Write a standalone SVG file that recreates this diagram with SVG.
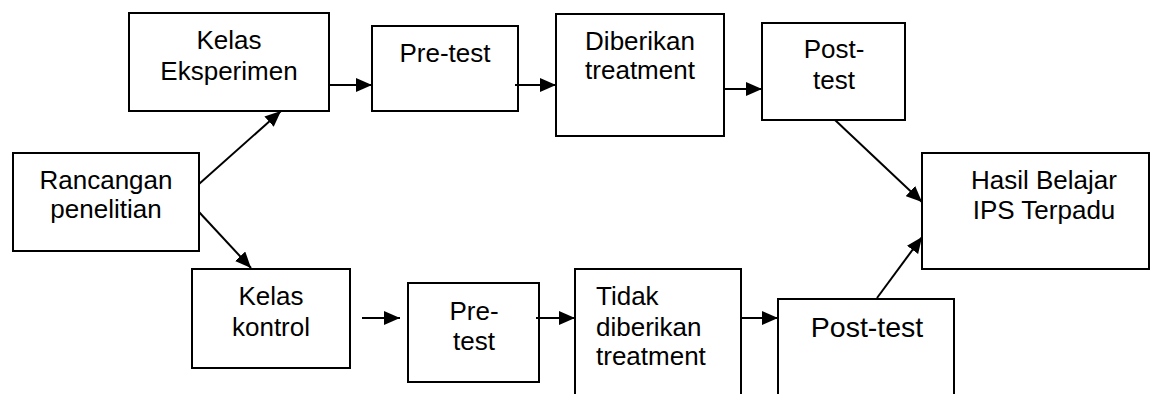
<svg xmlns="http://www.w3.org/2000/svg" width="1154" height="394" viewBox="0 0 1154 394">
<style>
.box{fill:#fff;stroke:#000;stroke-width:2}
.t{font-family:"Liberation Sans",Arial,sans-serif;font-size:26px;fill:#000;text-anchor:middle}
.l{text-anchor:start}
.big{font-size:28.5px}
.c{stroke:#000;stroke-width:2;fill:none;marker-end:url(#ah)}
</style>
<defs>
<marker id="ah" markerUnits="userSpaceOnUse" markerWidth="16" markerHeight="14" refX="16" refY="7" orient="auto">
<path d="M0,0 L16,7 L0,14 Z" fill="#000"/>
</marker>
</defs>
<rect width="1154" height="394" fill="#fff"/>
<g id="n-rancangan"><rect class="box" x="13" y="153" width="186" height="98"/><text class="t" x="106" y="189">Rancangan</text><text class="t" x="106" y="218">penelitian</text></g>
<g id="n-kelas-eksperimen"><rect class="box" x="129" y="13" width="200" height="98"/><text class="t" x="229" y="49">Kelas</text><text class="t" x="229" y="80">Eksperimen</text></g>
<g id="n-pretest-1"><rect class="box" x="372" y="26" width="146" height="85"/><text class="t" x="445" y="62">Pre-test</text></g>
<g id="n-diberikan"><rect class="box" x="556" y="14" width="168" height="122"/><text class="t" x="640" y="50">Diberikan</text><text class="t" x="640" y="79">treatment</text></g>
<g id="n-posttest-1"><rect class="box" x="762" y="23" width="143" height="97"/><text class="t" x="834" y="58">Post-</text><text class="t" x="834" y="89">test</text></g>
<g id="n-hasil"><rect class="box" x="922" y="153" width="227" height="116"/><text class="t" x="1044" y="189">Hasil Belajar</text><text class="t" x="1044" y="219">IPS Terpadu</text></g>
<g id="n-kelas-kontrol"><rect class="box" x="192" y="269" width="158" height="99"/><text class="t" x="271" y="305">Kelas</text><text class="t" x="271" y="336">kontrol</text></g>
<g id="n-pretest-2"><rect class="box" x="408" y="283" width="131" height="99"/><text class="t" x="474" y="320">Pre-</text><text class="t" x="474" y="350">test</text></g>
<g id="n-tidak"><rect class="box" x="575" y="269" width="166" height="140"/><text class="t l" x="596" y="305">Tidak</text><text class="t l" x="596" y="336">diberikan</text><text class="t l" x="596" y="365">treatment</text></g>
<g id="n-posttest-2"><rect class="box" x="778" y="299" width="176" height="110"/><text class="t big" x="867" y="337">Post-test</text></g>
<g id="connectors">
<line class="c" x1="199" y1="184" x2="281" y2="111"/>
<line class="c" x1="199" y1="212" x2="251" y2="268"/>
<line class="c" x1="329" y1="85" x2="372" y2="85"/>
<line class="c" x1="515" y1="85" x2="556" y2="85"/>
<line class="c" x1="724" y1="89" x2="762" y2="89"/>
<line class="c" x1="835" y1="120" x2="922" y2="202"/>
<line class="c" x1="362" y1="318" x2="400" y2="318"/>
<line class="c" x1="536" y1="318" x2="575" y2="318"/>
<line class="c" x1="741" y1="318" x2="778" y2="318"/>
<line class="c" x1="877" y1="298" x2="922" y2="237"/>
</g>
</svg>
